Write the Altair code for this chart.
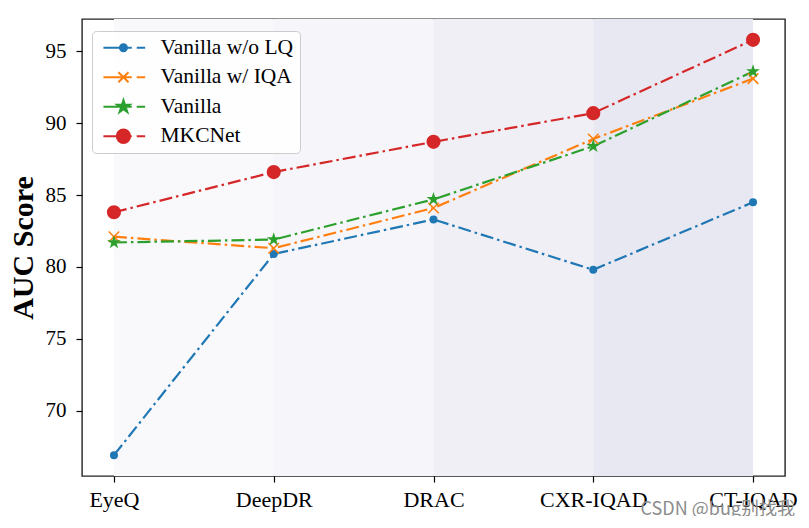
import altair as alt
import pandas as pd

categories = ["EyeQ", "DeepDR", "DRAC", "CXR-IQAD", "CT-IQAD"]
series_names = ["Vanilla w/o LQ", "Vanilla w/ IQA", "Vanilla", "MKCNet"]
vals_wo_lq = [66.9, 80.9, 83.3, 79.8, 84.5]
vals_w_iqa = [82.1, 81.3, 84.1, 88.9, 93.1]
vals_vanilla = [81.7, 81.9, 84.7, 88.4, 93.6]
vals_mkcnet = [83.8, 86.6, 88.7, 90.7, 95.8]
band_colors = ["#f9f9fc", "#f5f5fa", "#efeff5", "#e8e8f2"]
colors = ["#1f77b4", "#ff7f0e", "#2ca02c", "#d62728"]
watermark = ["CSDN @bug别找我"]

rows = []
for s, vals in zip(series_names, [vals_wo_lq, vals_w_iqa, vals_vanilla, vals_mkcnet]):
    for i, v in enumerate(vals):
        rows.append({"idx": i, "category": categories[i], "series": s, "value": v})
df = pd.DataFrame(rows)
bands = pd.DataFrame({"k": [0, 1, 2, 3], "start": [0, 1, 2, 3], "end": [1, 2, 3, 4]})

# ---- marker paths ----
def star(cx=0.0, cy=0.0, r=1.0):
    import math
    pts = []
    for k in range(10):
        ang = math.radians(-90 + 36 * k)
        rr = r if k % 2 == 0 else r * 0.382
        pts.append((cx + rr * math.cos(ang), cy + rr * math.sin(ang)))
    return "M" + " L".join(f"{x:.3f},{y:.3f}" for x, y in pts) + " Z"

def circ(cx, cy, r):
    return (f"M{cx - r:.3f},{cy:.3f} A{r:.3f},{r:.3f} 0 1,1 {cx + r:.3f},{cy:.3f} "
            f"A{r:.3f},{r:.3f} 0 1,1 {cx - r:.3f},{cy:.3f} Z")

def xmark(cx, cy, r):
    return (f"M{cx - r:.3f},{cy - r:.3f} L{cx + r:.3f},{cy + r:.3f} "
            f"M{cx - r:.3f},{cy + r:.3f} L{cx + r:.3f},{cy - r:.3f}")

X_PATH = xmark(0, 0, 1)
STAR_PATH = star()

# legend symbols: line + marker + trailing dash (unit = 7px)
LINE = "M-0.76,0 L3.29,0 M4.0,0 L5.2,0 "
MX = 2.1
legend_paths = [
    LINE + circ(MX, 0, 0.5),
    LINE + xmark(MX, 0, 0.72),
    LINE + star(MX, 0, 0.95),
    LINE + circ(MX, 0, 0.95),
]

W, H = 703, 457
xscale = alt.Scale(domain=[-0.2, 4.2], nice=False, zero=False)
yscale = alt.Scale(domain=[65.45, 97.25], nice=False, zero=False)
label_expr = "[" + ",".join(f"'{c}'" for c in categories) + "][datum.value]"

FONT = "Liberation Serif"
x_axis = alt.Axis(values=[0, 1, 2, 3, 4], labelExpr=label_expr, title=None, grid=False,
                  domain=False, tickSize=6, tickColor="black", tickWidth=1.2,
                  labelFont=FONT, labelFontSize=22, labelColor="black", labelPadding=7)
y_axis = alt.Axis(values=[70, 75, 80, 85, 90, 95], title="AUC Score", grid=False,
                  domain=False, tickSize=6, tickColor="black", tickWidth=1.2,
                  labelFont=FONT, labelFontSize=21, labelColor="black", labelPadding=10,
                  titleFont=FONT, titleFontSize=30, titleFontWeight="bold",
                  titleColor="black", titlePadding=7)

color_enc = alt.Color("series:N", scale=alt.Scale(domain=series_names, range=colors), legend=None)

band_layers = [
    alt.Chart(bands).transform_filter(f"datum.k == {i}").mark_rect(fill=c).encode(
        x=alt.X("start:Q", scale=xscale, axis=x_axis), x2="end:Q")
    for i, c in enumerate(band_colors)
]

lines = alt.Chart(df).mark_line(strokeWidth=2.2, strokeDash=[13, 4, 2.5, 4]).encode(
    x=alt.X("idx:Q", scale=xscale, axis=x_axis),
    y=alt.Y("value:Q", scale=yscale, axis=y_axis),
    color=color_enc,
    detail="series:N",
)

marker_specs = [
    ("Vanilla w/o LQ", "circle", 64, True),
    ("Vanilla w/ IQA", X_PATH, 110, False),
    ("Vanilla", STAR_PATH, 210, True),
    ("MKCNet", "circle", 200, True),
]
point_layers = []
for name, shp, sz, filled in marker_specs:
    point_layers.append(
        alt.Chart(df).transform_filter(alt.datum.series == name).mark_point(
            shape=shp, size=sz, filled=filled, opacity=1, strokeWidth=1.6
        ).encode(
            x=alt.X("idx:Q", scale=xscale, axis=x_axis),
            y=alt.Y("value:Q", scale=yscale, axis=y_axis),
            color=color_enc,
        )
    )

leg = alt.Legend(orient="none", legendX=10, legendY=12, title=None,
                 labelFont=FONT, labelFontSize=21.5, labelColor="black",
                 strokeColor="#cccccc", fillColor="rgba(255,255,255,0.85)",
                 cornerRadius=4, padding=6, symbolSize=196, symbolStrokeWidth=2,
                 symbolOpacity=1, labelOffset=41, rowPadding=6.5, labelLimit=300)

legend_layer = alt.Chart(df).mark_point(
    filled=True, size=196, opacity=1, fillOpacity=0, strokeOpacity=0, strokeWidth=2
).encode(
    x=alt.X("idx:Q", scale=xscale, axis=x_axis),
    y=alt.Y("value:Q", scale=yscale, axis=y_axis),
    fill=alt.Fill("series:N", scale=alt.Scale(domain=series_names, range=colors), legend=leg),
    stroke=alt.Stroke("series:N", scale=alt.Scale(domain=series_names, range=colors), legend=leg),
    shape=alt.Shape("series:N", scale=alt.Scale(domain=series_names, range=legend_paths), legend=leg),
)

wm = alt.Chart(pd.DataFrame({"t": watermark})).mark_text(
    align="right", baseline="middle", font="Noto Sans CJK SC", fontSize=18, color="#8c8c8c"
).encode(x=alt.value(713), y=alt.value(491), text="t:N")

chart = alt.layer(legend_layer, *band_layers, lines, *point_layers, wm).properties(
    width=W, height=H,
    padding={"left": 74, "top": 11, "right": 15, "bottom": 40},
    autosize=alt.AutoSizeParams(type="none"),
    background="white",
).configure_view(stroke="#222222", strokeWidth=1.4)

chart.save("out.html", embed_options={"renderer": "svg", "actions": False})
